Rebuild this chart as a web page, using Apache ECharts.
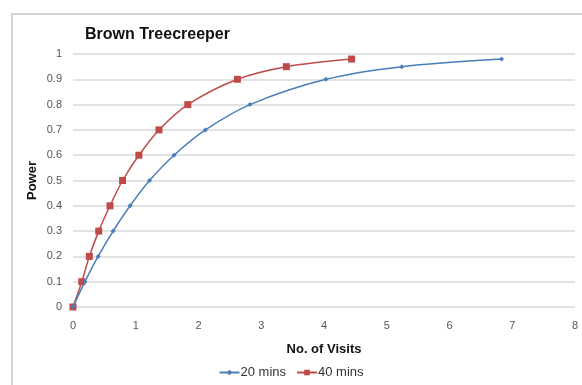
<!DOCTYPE html>
<html>
<head>
<meta charset="utf-8">
<script src="https://cdn.jsdelivr.net/npm/echarts@6/dist/echarts.min.js"></script>
<style>
  html, body { margin: 0; padding: 0; background: #fff; }
  #chart { width: 582px; height: 385px; }
</style>
</head>
<body>
<div id="chart"></div>
<script>
  // values
  var visits20 = [0, 0.19, 0.40, 0.64, 0.91, 1.22, 1.61, 2.11, 2.82, 4.03, 5.24, 6.83]
  var power20 = [0, 0.1, 0.2, 0.3, 0.4, 0.5, 0.6, 0.7, 0.8, 0.9, 0.95, 0.98]
  var visits40 = [0, 0.14, 0.26, 0.41, 0.59, 0.79, 1.05, 1.37, 1.83, 2.62, 3.40, 4.44]
  var power40 = [0, 0.1, 0.2, 0.3, 0.4, 0.5, 0.6, 0.7, 0.8, 0.9, 0.95, 0.98]
  var seriesNames = ['20 mins', '40 mins']

  function pairs (xs, ys) {
    var out = []
    for (var i = 0; i < xs.length; i++) out.push([xs[i], ys[i]])
    return out
  }

  var font = '"Liberation Sans", Arial, sans-serif'
  var chart = echarts.init(document.getElementById('chart'))
  chart.setOption({
    animation: false,
    textStyle: { fontFamily: font },
    color: ['#4a7ebb', '#be4b48'],
    graphic: [{
      type: 'rect',
      shape: { x: 12, y: 14, width: 600, height: 400 },
      style: { fill: 'none', stroke: '#c6c6c6', lineWidth: 1.5 },
      silent: true
    }],
    title: {
      text: 'Brown Treecreeper',
      left: 80,
      top: 22,
      textStyle: { fontSize: 16, fontWeight: 'bold', color: '#111', fontFamily: font }
    },
    legend: {
      data: seriesNames,
      bottom: 1,
      left: 'center',
      itemWidth: 20,
      itemHeight: 7,
      itemGap: 10,
      textStyle: { fontSize: 13, color: '#333', fontFamily: font, padding: [0, 0, 0, -4] }
    },
    grid: { left: 73, right: 7, top: 54, bottom: 78 },
    xAxis: {
      type: 'value',
      min: 0,
      max: 8,
      interval: 1,
      name: 'No. of Visits',
      nameLocation: 'middle',
      nameGap: 36,
      nameMoveOverlap: false,
      nameTextStyle: { fontSize: 13, fontWeight: 'bold', color: '#111', fontFamily: font },
      axisLine: { show: false },
      axisTick: { show: false },
      splitLine: { show: false },
      axisLabel: { color: '#555', fontSize: 11, margin: 13 }
    },
    yAxis: {
      type: 'value',
      min: 0,
      max: 1,
      interval: 0.1,
      name: 'Power',
      nameLocation: 'middle',
      nameGap: 34,
      nameMoveOverlap: false,
      nameTextStyle: { fontSize: 13, fontWeight: 'bold', color: '#111', fontFamily: font },
      axisLine: { show: false },
      axisTick: { show: false },
      axisLabel: { color: '#555', fontSize: 11, margin: 11 },
      splitLine: { lineStyle: { color: '#d9d9d9', width: 1.5 } }
    },
    series: [{
      name: seriesNames[0],
      type: 'line',
      smooth: 0.3,
      data: pairs(visits20, power20),
      symbol: 'diamond',
      symbolSize: 5,
      lineStyle: { width: 1.5 },
      z: 3
    }, {
      name: seriesNames[1],
      type: 'line',
      smooth: 0.3,
      data: pairs(visits40, power40),
      symbol: 'rect',
      symbolSize: 7,
      lineStyle: { width: 1.5 },
      z: 2
    }]
  })
</script>
</body>
</html>
